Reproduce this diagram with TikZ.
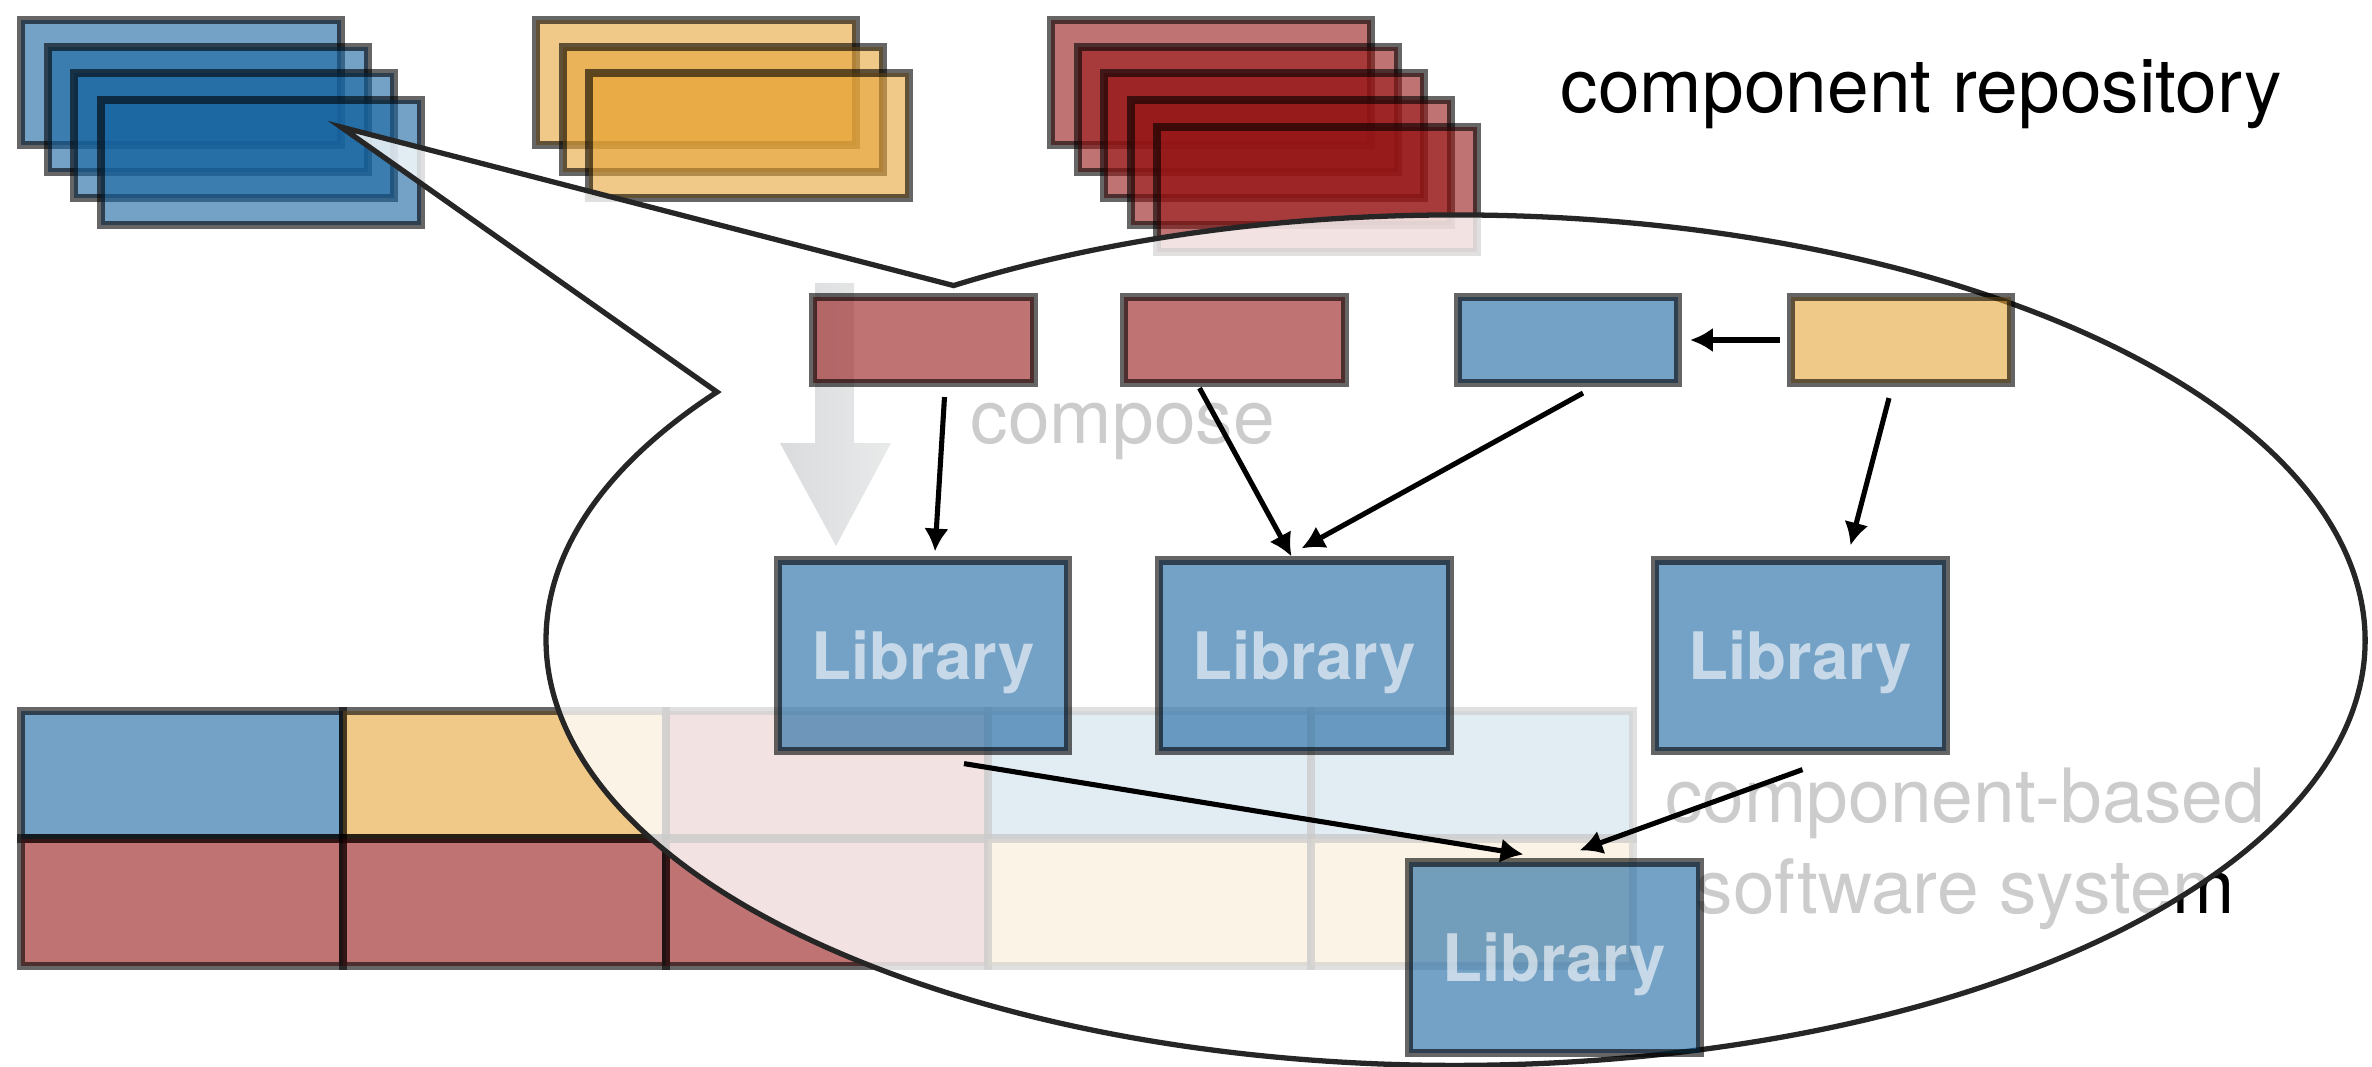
\documentclass[tikz,border=0pt]{standalone}
\usepackage{fontspec}
\setmainfont{TeX Gyre Heros}
\usetikzlibrary{arrows.meta, calc}
\definecolor{compblue}{RGB}{23,100,160}
\definecolor{compred}{RGB}{150,22,22}
\definecolor{comporange}{RGB}{230,165,57}

\begin{document}
\begin{tikzpicture}[x=0.01cm, y=-0.01cm,
  box/.style={draw=black, draw opacity=0.6, line width=2.3pt, fill opacity=0.6, text opacity=0.6, inner sep=0pt},
  part/.style={box, minimum width=2.2cm, minimum height=0.86cm},
  lib/.style={box, fill=compblue, minimum width=2.9cm, minimum height=1.9cm, text=white, text depth=0pt, font=\bfseries\fontsize{18.6}{22}\selectfont},
  link/.style={line width=1.45pt, -{Latex[length=6.5pt,width=7pt]}},
  bigtext/.style={inner sep=0pt, font=\fontsize{21.3}{25.6}\selectfont}
]
\useasboundingbox (0,0) rectangle (2372,1066);

% repository stacks
\foreach \i in {0,...,3}
  \draw[box, fill=compblue] (21+26.6*\i, 20+26.7*\i) rectangle +(320,125);
\foreach \i in {0,1,2}
  \draw[box, fill=comporange] (536+26.6*\i, 20+26.7*\i) rectangle +(320,125);
\foreach \i in {0,...,4}
  \draw[box, fill=compred] (1051+26.6*\i, 20+26.7*\i) rectangle +(320,125);

% system grid
\foreach \c [count=\k from 0] in {compblue,comporange,compred,compblue,compblue}
  \draw[box, fill=\c] (21+322.4*\k, 711) rectangle +(322.4,127.5);
\foreach \c [count=\k from 0] in {compred,compred,compred,comporange,comporange}
  \draw[box, fill=\c] (21+322.4*\k, 838.5) rectangle +(322.4,127.5);

% compose
\shade[left color={rgb,255:red,70;green,78;blue,88}, right color={rgb,255:red,145;green,150;blue,150}]
  (815,283) -- (854,283) -- (854,443) -- (891,443) -- (836,546) -- (780,443) -- (815,443) -- cycle;
\node[bigtext, anchor=base west] (compose) at (970,443) {compose};
\node[bigtext, anchor=base, align=center] (system) at (1965,913) {component-based\\software system};

% callout
\draw[fill=white, fill opacity=0.8, draw=black!85, line width=1.5pt]
  (717,392) arc[start angle=144.3, end angle=483.5, x radius=9.09cm, y radius=4.25cm] -- (341,127) -- cycle;

\node[part, fill=compred] (red1) at (923.5,340) {};
\node[part, fill=compred] (red2) at (1234.5,340) {};
\node[part, fill=compblue] (blue1) at (1568,340) {};
\node[part, fill=comporange] (orange1) at (1901,340) {};

\node[lib] (lib1) at (923,655.5) {Library};
\node[lib] (lib2) at (1304.5,655.5) {Library};
\node[lib] (lib3) at (1800.5,655.5) {Library};
\node[lib] (lib4) at (1554.5,957.5) {Library};

\draw[link] ($(red1.south)+(21,10)$) -- ($(lib1.north)+(12,-5)$);
\draw[link] ($(red2.south)+(-35,1)$) -- ($(lib2.north)+(-13,0)$);
\draw[link] ($(blue1.south)+(15,6)$) -- ($(lib2.north)+(-3,-8)$);
\draw[link] ($(orange1.west)+(-7,0)$) -- ($(blue1.east)+(8,0)$);
\draw[link] ($(orange1.south)+(-12,11)$) -- ($(lib3.north)+(50,-11)$);
\draw[link] ($(lib1.south)+(41,9)$) -- ($(lib4.north)+(-31,-4)$);
\draw[link] ($(lib3.south)+(2,15)$) -- ($(lib4.north)+(25,-8)$);

\node[bigtext, anchor=base west] (repo) at (1560,112) {component repository};
\end{tikzpicture}
\end{document}
